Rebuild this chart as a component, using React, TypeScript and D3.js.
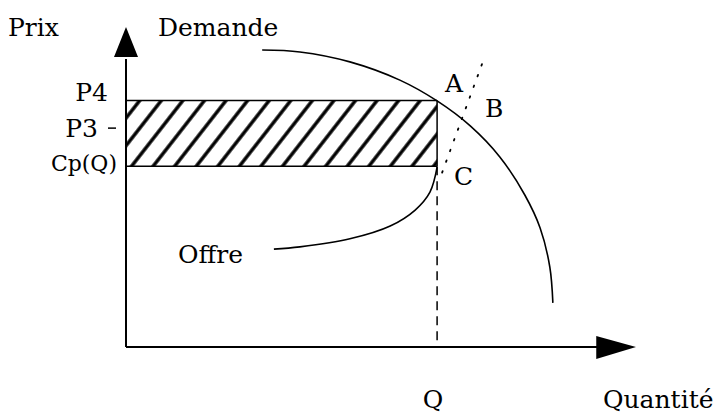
import React from 'react'
import * as d3 from 'd3'

// economic values (arbitrary units)
const demandQ = [2.67, 3.41, 4.39, 5.37, 6.1, 6.75, 7.33, 7.82, 8.12, 8.31, 8.37]
const demandP = [9.28, 9.22, 8.91, 8.34, 7.69, 6.91, 5.94, 4.75, 3.72, 2.5, 1.38]
const supplyQ = [2.9, 3.41, 4.39, 5.18, 5.67, 5.96, 6.1]
const supplyP = [3.06, 3.13, 3.38, 3.78, 4.28, 4.84, 5.62]
const tangentQ = [6.98, 6.18]
const tangentP = [8.84, 5.37]
const Q = 6.1
const P4 = 7.7
const P3 = 6.84
const CpQ = 5.65

const W = 713
const H = 418
const font = 'DejaVu Serif'

const App = () => {
  const x = d3.scaleLinear().domain([0, 10]).range([126, 636])
  const y = d3.scaleLinear().domain([0, 10]).range([347, 27])

  const line = d3.line<[number, number]>()
    .x(d => x(d[0]))
    .y(d => y(d[1]))

  const demandPath = line.curve(d3.curveCatmullRom)(demandQ.map((q, i) => [q, demandP[i]]))
  const supplyPath = line.curve(d3.curveCatmullRom)(supplyQ.map((q, i) => [q, supplyP[i]]))
  const tangentPath = line.curve(d3.curveLinear)(tangentQ.map((q, i) => [q, tangentP[i]]))

  const x0 = x(0)
  const y0 = y(0)

  return (
    <svg width={W} height={H} style={{ position: 'absolute', left: 0, top: 0, background: '#fff' }}>
      <defs>
        <pattern id="hatch" patternUnits="userSpaceOnUse" width={17} height={17} patternTransform="rotate(38)">
          <line x1={2} y1={0} x2={2} y2={17} stroke="#000" strokeWidth={3.4} />
        </pattern>
      </defs>
      <rect x={0} y={0} width={W} height={H} fill="#fff" />

      {/* hatched area */}
      <rect x={x0} y={y(P4)} width={x(Q) - x0} height={y(CpQ) - y(P4)} fill="url(#hatch)" />
      <line x1={x0} x2={x(Q)} y1={y(P4)} y2={y(P4)} stroke="#000" strokeWidth={1.5} />
      <line x1={x0} x2={x(Q)} y1={y(CpQ)} y2={y(CpQ)} stroke="#000" strokeWidth={1.5} />
      <line x1={x(Q)} x2={x(Q)} y1={y(P4)} y2={y(CpQ)} stroke="#000" strokeWidth={1.5} />

      {/* Q dashed */}
      <line x1={x(Q)} x2={x(Q)} y1={y(CpQ)} y2={y0} stroke="#000" strokeWidth={1.5} strokeDasharray="9 6" />

      {/* axes */}
      <line x1={x0} x2={x(9.3)} y1={y0} y2={y0} stroke="#000" strokeWidth={2} />
      <line x1={x0} x2={x0} y1={y0} y2={y(9)} stroke="#000" strokeWidth={2} />
      <path d={`M${x(10)},${y0} L${x(9.22)},${y0 - 11} L${x(9.22)},${y0 + 12} Z`} fill="#000" />
      <path d={`M${x0},${y(10)} L${x0 - 12},${y(9.06)} L${x0 + 12},${y(9.06)} Z`} fill="#000" />

      {/* curves */}
      <path d={demandPath || ''} fill="none" stroke="#000" strokeWidth={1.6} />
      <path d={supplyPath || ''} fill="none" stroke="#000" strokeWidth={1.6} />
      <path d={tangentPath || ''} fill="none" stroke="#000" strokeWidth={1.8} strokeDasharray="1.6 9.8" strokeLinecap="round" />

      {/* P3 tick */}
      <line x1={x0 - 18} x2={x0 - 10} y1={y(P3)} y2={y(P3)} stroke="#000" strokeWidth={1.5} />

      <g fontFamily={font} fontSize={25} fill="#000">
        <text x={8} y={36}>Prix</text>
        <text x={158} y={36}>Demande</text>
        <text x={x0 - 18} y={y(P4)} textAnchor="end">P4</text>
        <text x={x0 - 28} y={y(P3) + 9} textAnchor="end">P3</text>
        <text x={x0 - 9} y={y(CpQ) + 5} textAnchor="end" fontSize={22}>Cp(Q)</text>
        <text x={445} y={92}>A</text>
        <text x={485} y={117}>B</text>
        <text x={454} y={185}>C</text>
        <text x={178} y={263}>Offre</text>
        <text x={x(Q) - 4} y={408} textAnchor="middle">Q</text>
        <text x={603} y={408}>Quantité</text>
      </g>
    </svg>
  )
}

export default App
